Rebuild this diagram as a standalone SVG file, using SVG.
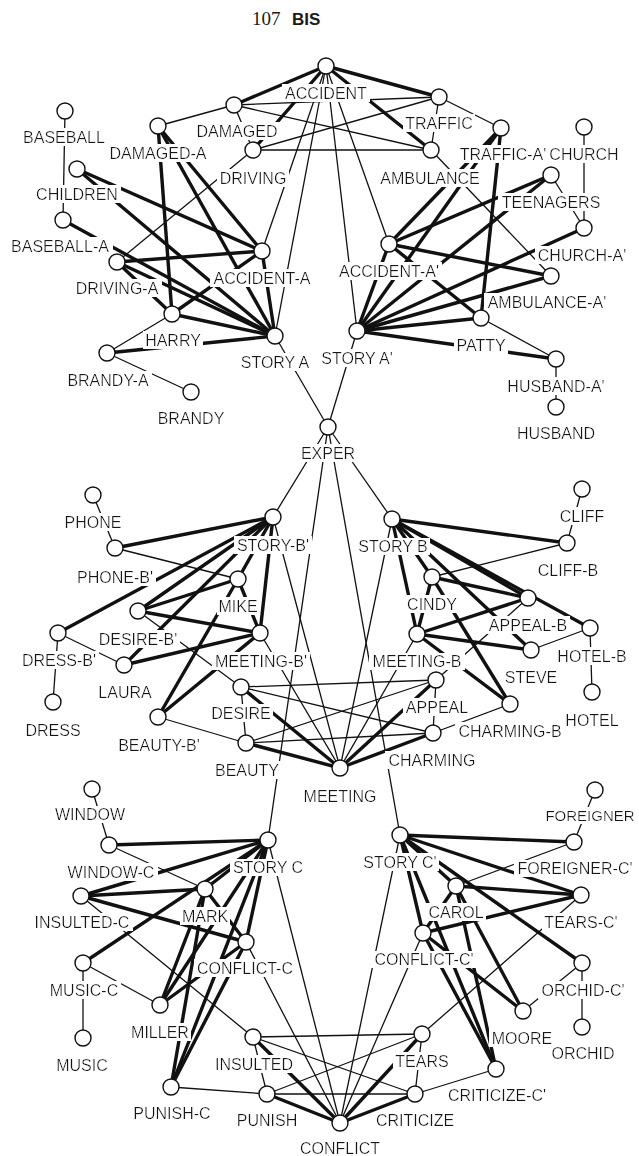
<svg xmlns="http://www.w3.org/2000/svg" width="639" height="1156" viewBox="0 0 639 1156">
<defs>
<filter id="bg" x="-0.03" y="0" width="1.06" height="1"><feFlood flood-color="#fff" result="f"/><feMerge><feMergeNode in="f"/><feMergeNode in="SourceGraphic"/></feMerge></filter>
</defs>
<style>
.t{stroke:#111;stroke-width:1.3;fill:none}
.T{stroke:#111;stroke-width:3.4;fill:none}
.nodes circle{fill:#fff;stroke:#111;stroke-width:1.4}
.nodes text{font-family:"Liberation Sans",Arial,sans-serif;font-size:16px;text-anchor:middle;fill:#161616;filter:url(#bg)}
.title{fill:#1a1a1a}
</style>
<g id="title">
<text class="title" x="252" y="25" font-family="Liberation Serif,serif" font-size="19">107</text>
<text class="title" x="292" y="25" font-family="Liberation Sans,sans-serif" font-size="17" font-weight="bold">BIS</text>
</g>
<g id="connectors">
<line class="T" x1="326" y1="66" x2="234" y2="105"/>
<line class="T" x1="326" y1="66" x2="439" y2="97"/>
<line class="T" x1="326" y1="66" x2="253" y2="150"/>
<line class="T" x1="326" y1="66" x2="431" y2="150"/>
<line class="t" x1="326" y1="66" x2="262" y2="251"/>
<line class="t" x1="326" y1="66" x2="275" y2="336"/>
<line class="t" x1="326" y1="66" x2="389" y2="244"/>
<line class="t" x1="326" y1="66" x2="357" y2="331"/>
<line class="t" x1="234" y1="105" x2="158" y2="126"/>
<line class="t" x1="234" y1="105" x2="439" y2="97"/>
<line class="t" x1="234" y1="105" x2="431" y2="150"/>
<line class="t" x1="234" y1="105" x2="253" y2="150"/>
<line class="t" x1="253" y1="150" x2="439" y2="97"/>
<line class="t" x1="253" y1="150" x2="431" y2="150"/>
<line class="t" x1="253" y1="150" x2="117" y2="262"/>
<line class="t" x1="439" y1="97" x2="431" y2="150"/>
<line class="t" x1="439" y1="97" x2="501" y2="128"/>
<line class="t" x1="65" y1="111" x2="63" y2="220"/>
<line class="T" x1="158" y1="126" x2="172" y2="314"/>
<line class="T" x1="158" y1="126" x2="275" y2="336"/>
<line class="T" x1="158" y1="126" x2="262" y2="251"/>
<line class="T" x1="77" y1="169" x2="262" y2="251"/>
<line class="T" x1="77" y1="169" x2="275" y2="336"/>
<line class="T" x1="63" y1="220" x2="275" y2="336"/>
<line class="T" x1="117" y1="262" x2="262" y2="251"/>
<line class="T" x1="117" y1="262" x2="275" y2="336"/>
<line class="T" x1="117" y1="262" x2="172" y2="314"/>
<line class="T" x1="172" y1="314" x2="262" y2="251"/>
<line class="T" x1="172" y1="314" x2="275" y2="336"/>
<line class="t" x1="172" y1="314" x2="107" y2="353"/>
<line class="T" x1="107" y1="353" x2="275" y2="336"/>
<line class="t" x1="107" y1="353" x2="191" y2="392"/>
<line class="T" x1="262" y1="251" x2="275" y2="336"/>
<line class="t" x1="275" y1="336" x2="328" y2="427"/>
<line class="T" x1="501" y1="128" x2="389" y2="244"/>
<line class="T" x1="501" y1="128" x2="357" y2="331"/>
<line class="T" x1="501" y1="128" x2="481" y2="318"/>
<line class="t" x1="431" y1="150" x2="551" y2="276"/>
<line class="T" x1="551" y1="175" x2="389" y2="244"/>
<line class="T" x1="551" y1="175" x2="357" y2="331"/>
<line class="t" x1="551" y1="175" x2="584" y2="228"/>
<line class="t" x1="584" y1="127" x2="584" y2="228"/>
<line class="T" x1="584" y1="228" x2="357" y2="331"/>
<line class="T" x1="389" y1="244" x2="551" y2="276"/>
<line class="T" x1="389" y1="244" x2="481" y2="318"/>
<line class="T" x1="551" y1="276" x2="357" y2="331"/>
<line class="T" x1="481" y1="318" x2="357" y2="331"/>
<line class="T" x1="556" y1="359" x2="357" y2="331"/>
<line class="t" x1="481" y1="318" x2="556" y2="359"/>
<line class="t" x1="556" y1="359" x2="556" y2="407"/>
<line class="T" x1="389" y1="244" x2="357" y2="331"/>
<line class="t" x1="357" y1="331" x2="328" y2="427"/>
<line class="t" x1="328" y1="427" x2="273" y2="517"/>
<line class="t" x1="328" y1="427" x2="392" y2="519"/>
<line class="t" x1="328" y1="427" x2="268" y2="840"/>
<line class="t" x1="328" y1="427" x2="400" y2="835"/>
<line class="t" x1="93" y1="495" x2="115" y2="548"/>
<line class="T" x1="115" y1="548" x2="273" y2="517"/>
<line class="t" x1="115" y1="548" x2="238" y2="579"/>
<line class="T" x1="58" y1="633" x2="273" y2="517"/>
<line class="T" x1="138" y1="611" x2="273" y2="517"/>
<line class="T" x1="124" y1="665" x2="273" y2="517"/>
<line class="T" x1="238" y1="579" x2="273" y2="517"/>
<line class="T" x1="260" y1="633" x2="273" y2="517"/>
<line class="T" x1="138" y1="611" x2="238" y2="579"/>
<line class="T" x1="138" y1="611" x2="260" y2="633"/>
<line class="t" x1="138" y1="611" x2="241" y2="687"/>
<line class="t" x1="58" y1="633" x2="124" y2="665"/>
<line class="t" x1="58" y1="633" x2="53" y2="702"/>
<line class="T" x1="124" y1="665" x2="260" y2="633"/>
<line class="T" x1="238" y1="579" x2="260" y2="633"/>
<line class="T" x1="158" y1="717" x2="238" y2="579"/>
<line class="T" x1="158" y1="717" x2="260" y2="633"/>
<line class="t" x1="158" y1="717" x2="246" y2="743"/>
<line class="t" x1="241" y1="687" x2="246" y2="743"/>
<line class="t" x1="273" y1="517" x2="340" y2="768"/>
<line class="t" x1="260" y1="633" x2="340" y2="768"/>
<line class="t" x1="241" y1="687" x2="436" y2="680"/>
<line class="t" x1="241" y1="687" x2="433" y2="733"/>
<line class="t" x1="246" y1="743" x2="436" y2="680"/>
<line class="t" x1="246" y1="743" x2="433" y2="733"/>
<line class="T" x1="241" y1="687" x2="340" y2="768"/>
<line class="T" x1="246" y1="743" x2="340" y2="768"/>
<line class="T" x1="436" y1="680" x2="340" y2="768"/>
<line class="T" x1="433" y1="733" x2="340" y2="768"/>
<line class="t" x1="392" y1="519" x2="340" y2="768"/>
<line class="t" x1="417" y1="634" x2="340" y2="768"/>
<line class="T" x1="392" y1="519" x2="567" y2="543"/>
<line class="T" x1="392" y1="519" x2="432" y2="577"/>
<line class="T" x1="392" y1="519" x2="528" y2="598"/>
<line class="T" x1="392" y1="519" x2="590" y2="628"/>
<line class="T" x1="392" y1="519" x2="417" y2="634"/>
<line class="T" x1="392" y1="519" x2="531" y2="650"/>
<line class="T" x1="432" y1="577" x2="510" y2="704"/>
<line class="T" x1="432" y1="577" x2="528" y2="598"/>
<line class="t" x1="432" y1="577" x2="567" y2="543"/>
<line class="T" x1="432" y1="577" x2="417" y2="634"/>
<line class="T" x1="417" y1="634" x2="528" y2="598"/>
<line class="T" x1="417" y1="634" x2="531" y2="650"/>
<line class="T" x1="417" y1="634" x2="510" y2="704"/>
<line class="t" x1="531" y1="650" x2="590" y2="628"/>
<line class="t" x1="528" y1="598" x2="436" y2="680"/>
<line class="t" x1="510" y1="704" x2="433" y2="733"/>
<line class="t" x1="436" y1="680" x2="433" y2="733"/>
<line class="t" x1="590" y1="628" x2="592" y2="692"/>
<line class="t" x1="582" y1="489" x2="567" y2="543"/>
<line class="T" x1="268" y1="840" x2="109" y2="845"/>
<line class="T" x1="268" y1="840" x2="81" y2="896"/>
<line class="T" x1="268" y1="840" x2="83" y2="963"/>
<line class="T" x1="268" y1="840" x2="205" y2="889"/>
<line class="T" x1="268" y1="840" x2="246" y2="942"/>
<line class="T" x1="268" y1="840" x2="160" y2="1005"/>
<line class="T" x1="268" y1="840" x2="171" y2="1087"/>
<line class="t" x1="268" y1="840" x2="340" y2="1123"/>
<line class="t" x1="92" y1="789" x2="109" y2="845"/>
<line class="t" x1="109" y1="845" x2="205" y2="889"/>
<line class="T" x1="81" y1="896" x2="205" y2="889"/>
<line class="T" x1="81" y1="896" x2="246" y2="942"/>
<line class="t" x1="81" y1="896" x2="253" y2="1037"/>
<line class="t" x1="83" y1="963" x2="160" y2="1005"/>
<line class="t" x1="83" y1="963" x2="83" y2="1038"/>
<line class="T" x1="205" y1="889" x2="160" y2="1005"/>
<line class="T" x1="205" y1="889" x2="171" y2="1087"/>
<line class="T" x1="205" y1="889" x2="246" y2="942"/>
<line class="T" x1="246" y1="942" x2="160" y2="1005"/>
<line class="T" x1="246" y1="942" x2="171" y2="1087"/>
<line class="t" x1="246" y1="942" x2="340" y2="1123"/>
<line class="t" x1="171" y1="1087" x2="267" y2="1094"/>
<line class="t" x1="253" y1="1037" x2="267" y2="1094"/>
<line class="t" x1="253" y1="1037" x2="422" y2="1034"/>
<line class="t" x1="253" y1="1037" x2="415" y2="1094"/>
<line class="T" x1="253" y1="1037" x2="340" y2="1123"/>
<line class="t" x1="267" y1="1094" x2="422" y2="1034"/>
<line class="t" x1="267" y1="1094" x2="415" y2="1094"/>
<line class="T" x1="267" y1="1094" x2="340" y2="1123"/>
<line class="T" x1="400" y1="835" x2="574" y2="842"/>
<line class="T" x1="400" y1="835" x2="581" y2="895"/>
<line class="T" x1="400" y1="835" x2="456" y2="886"/>
<line class="T" x1="400" y1="835" x2="582" y2="963"/>
<line class="T" x1="400" y1="835" x2="423" y2="933"/>
<line class="T" x1="400" y1="835" x2="496" y2="1069"/>
<line class="T" x1="456" y1="886" x2="581" y2="895"/>
<line class="T" x1="423" y1="933" x2="581" y2="895"/>
<line class="t" x1="456" y1="886" x2="574" y2="842"/>
<line class="T" x1="456" y1="886" x2="523" y2="1011"/>
<line class="T" x1="423" y1="933" x2="523" y2="1011"/>
<line class="T" x1="423" y1="933" x2="496" y2="1069"/>
<line class="T" x1="456" y1="886" x2="496" y2="1069"/>
<line class="T" x1="456" y1="886" x2="423" y2="933"/>
<line class="t" x1="581" y1="895" x2="422" y2="1034"/>
<line class="t" x1="582" y1="963" x2="523" y2="1011"/>
<line class="t" x1="582" y1="963" x2="582" y2="1027"/>
<line class="t" x1="595" y1="790" x2="574" y2="842"/>
<line class="t" x1="423" y1="933" x2="340" y2="1123"/>
<line class="t" x1="400" y1="835" x2="340" y2="1123"/>
<line class="t" x1="496" y1="1069" x2="415" y2="1094"/>
<line class="t" x1="422" y1="1034" x2="415" y2="1094"/>
<line class="T" x1="422" y1="1034" x2="340" y2="1123"/>
<line class="T" x1="415" y1="1094" x2="340" y2="1123"/>
</g>
<g class="nodes">
<g id="accident"><circle cx="326" cy="66" r="8"/><text x="326" y="98.5">ACCIDENT</text></g>
<g id="damaged"><circle cx="234" cy="105" r="8"/><text x="237" y="136.5">DAMAGED</text></g>
<g id="damaged-a"><circle cx="158" cy="126" r="8"/><text x="158" y="158.5">DAMAGED-A</text></g>
<g id="driving"><circle cx="253" cy="150" r="8"/><text x="253" y="183.5">DRIVING</text></g>
<g id="baseball"><circle cx="65" cy="111" r="8"/><text x="64" y="142.5">BASEBALL</text></g>
<g id="children"><circle cx="77" cy="169" r="8"/><text x="77" y="199.5">CHILDREN</text></g>
<g id="baseball-a"><circle cx="63" cy="220" r="8"/><text x="60" y="251.5">BASEBALL-A</text></g>
<g id="driving-a"><circle cx="117" cy="262" r="8"/><text x="117" y="293.5">DRIVING-A</text></g>
<g id="harry"><circle cx="172" cy="314" r="8"/><text x="173" y="345.5">HARRY</text></g>
<g id="brandy-a"><circle cx="107" cy="353" r="8"/><text x="108" y="385.5">BRANDY-A</text></g>
<g id="brandy"><circle cx="191" cy="392" r="8"/><text x="191" y="423.5">BRANDY</text></g>
<g id="story-a"><circle cx="275" cy="336" r="8"/><text x="275" y="367.5">STORY A</text></g>
<g id="accident-a"><circle cx="262" cy="251" r="8"/><text x="262" y="283.5">ACCIDENT-A</text></g>
<g id="exper"><circle cx="328" cy="427" r="8"/><text x="328" y="458.5">EXPER</text></g>
<g id="traffic"><circle cx="439" cy="97" r="8"/><text x="439" y="128.5">TRAFFIC</text></g>
<g id="ambulance"><circle cx="431" cy="150" r="8"/><text x="430" y="183.5">AMBULANCE</text></g>
<g id="traffic-a2"><circle cx="501" cy="128" r="8"/><text x="503" y="159.5">TRAFFIC-A'</text></g>
<g id="church"><circle cx="584" cy="127" r="8"/><text x="584" y="159.5">CHURCH</text></g>
<g id="teenagers"><circle cx="551" cy="175" r="8"/><text x="551" y="207.5">TEENAGERS</text></g>
<g id="church-a2"><circle cx="584" cy="228" r="8"/><text x="582" y="260.5">CHURCH-A'</text></g>
<g id="accident-a2"><circle cx="389" cy="244" r="8"/><text x="389" y="276.5">ACCIDENT-A'</text></g>
<g id="ambulance-a2"><circle cx="551" cy="276" r="8"/><text x="547" y="307.5">AMBULANCE-A'</text></g>
<g id="patty"><circle cx="481" cy="318" r="8"/><text x="481" y="350.5">PATTY</text></g>
<g id="story-a2"><circle cx="357" cy="331" r="8"/><text x="357" y="363.5">STORY A'</text></g>
<g id="husband-a2"><circle cx="556" cy="359" r="8"/><text x="556" y="391.5">HUSBAND-A'</text></g>
<g id="husband"><circle cx="556" cy="407" r="8"/><text x="556" y="438.5">HUSBAND</text></g>
<g id="phone"><circle cx="93" cy="495" r="8"/><text x="93" y="527.5">PHONE</text></g>
<g id="phone-b2"><circle cx="115" cy="548" r="8"/><text x="115" y="582.5">PHONE-B'</text></g>
<g id="story-b2"><circle cx="273" cy="517" r="8"/><text x="273" y="550.5">STORY-B'</text></g>
<g id="mike"><circle cx="238" cy="579" r="8"/><text x="238" y="611.5">MIKE</text></g>
<g id="desire-b2"><circle cx="138" cy="611" r="8"/><text x="138" y="644.5">DESIRE-B'</text></g>
<g id="dress-b2"><circle cx="58" cy="633" r="8"/><text x="59" y="665.5">DRESS-B'</text></g>
<g id="laura"><circle cx="124" cy="665" r="8"/><text x="125" y="697.5">LAURA</text></g>
<g id="dress"><circle cx="53" cy="702" r="8"/><text x="53" y="735.5">DRESS</text></g>
<g id="meeting-b2"><circle cx="260" cy="633" r="8"/><text x="261" y="666.5">MEETING-B'</text></g>
<g id="desire"><circle cx="241" cy="687" r="8"/><text x="241" y="718.5">DESIRE</text></g>
<g id="beauty-b2"><circle cx="158" cy="717" r="8"/><text x="159" y="750.5">BEAUTY-B'</text></g>
<g id="beauty"><circle cx="246" cy="743" r="8"/><text x="247" y="775.5">BEAUTY</text></g>
<g id="meeting"><circle cx="340" cy="768" r="8"/><text x="340" y="801.5">MEETING</text></g>
<g id="cliff"><circle cx="582" cy="489" r="8"/><text x="582" y="521.5">CLIFF</text></g>
<g id="story-b"><circle cx="392" cy="519" r="8"/><text x="393" y="552">STORY B</text></g>
<g id="cliff-b"><circle cx="567" cy="543" r="8"/><text x="568" y="575.5">CLIFF-B</text></g>
<g id="cindy"><circle cx="432" cy="577" r="8"/><text x="432" y="609.5">CINDY</text></g>
<g id="appeal-b"><circle cx="528" cy="598" r="8"/><text x="528" y="630.5">APPEAL-B</text></g>
<g id="hotel-b"><circle cx="590" cy="628" r="8"/><text x="592" y="661.5">HOTEL-B</text></g>
<g id="meeting-b"><circle cx="417" cy="634" r="8"/><text x="417" y="667">MEETING-B</text></g>
<g id="steve"><circle cx="531" cy="650" r="8"/><text x="531" y="682.5">STEVE</text></g>
<g id="hotel"><circle cx="592" cy="692" r="8"/><text x="592" y="725.5">HOTEL</text></g>
<g id="appeal"><circle cx="436" cy="680" r="8"/><text x="437" y="712.5">APPEAL</text></g>
<g id="charming-b"><circle cx="510" cy="704" r="8"/><text x="510" y="736.5">CHARMING-B</text></g>
<g id="charming"><circle cx="433" cy="733" r="8"/><text x="432" y="765.5">CHARMING</text></g>
<g id="window"><circle cx="92" cy="789" r="8"/><text x="90" y="820">WINDOW</text></g>
<g id="window-c"><circle cx="109" cy="845" r="8"/><text x="111" y="877.5">WINDOW-C</text></g>
<g id="story-c"><circle cx="268" cy="840" r="8"/><text x="268" y="873">STORY C</text></g>
<g id="insulted-c"><circle cx="81" cy="896" r="8"/><text x="82" y="927.5">INSULTED-C</text></g>
<g id="mark"><circle cx="205" cy="889" r="8"/><text x="205" y="921.5">MARK</text></g>
<g id="conflict-c"><circle cx="246" cy="942" r="8"/><text x="245" y="973.5">CONFLICT-C</text></g>
<g id="music-c"><circle cx="83" cy="963" r="8"/><text x="84" y="995.5">MUSIC-C</text></g>
<g id="miller"><circle cx="160" cy="1005" r="8"/><text x="160" y="1037.5">MILLER</text></g>
<g id="music"><circle cx="83" cy="1038" r="8"/><text x="82" y="1071">MUSIC</text></g>
<g id="insulted"><circle cx="253" cy="1037" r="8"/><text x="254" y="1069.5">INSULTED</text></g>
<g id="punish-c"><circle cx="171" cy="1087" r="8"/><text x="172" y="1118.5">PUNISH-C</text></g>
<g id="punish"><circle cx="267" cy="1094" r="8"/><text x="267" y="1126">PUNISH</text></g>
<g id="conflict"><circle cx="340" cy="1123" r="8"/><text x="340" y="1154">CONFLICT</text></g>
<g id="foreigner"><circle cx="595" cy="790" r="8"/><text x="590" y="821" style="font-size:15px">FOREIGNER</text></g>
<g id="story-c2"><circle cx="400" cy="835" r="8"/><text x="400" y="867.5">STORY C'</text></g>
<g id="foreigner-c2"><circle cx="574" cy="842" r="8"/><text x="575" y="874">FOREIGNER-C'</text></g>
<g id="carol"><circle cx="456" cy="886" r="8"/><text x="456" y="917.5">CAROL</text></g>
<g id="tears-c2"><circle cx="581" cy="895" r="8"/><text x="581" y="927.5">TEARS-C'</text></g>
<g id="conflict-c2"><circle cx="423" cy="933" r="8"/><text x="424" y="965">CONFLICT-C'</text></g>
<g id="orchid-c2"><circle cx="582" cy="963" r="8"/><text x="583" y="995.5">ORCHID-C'</text></g>
<g id="moore"><circle cx="523" cy="1011" r="8"/><text x="522" y="1043.5">MOORE</text></g>
<g id="orchid"><circle cx="582" cy="1027" r="8"/><text x="583" y="1058.5">ORCHID</text></g>
<g id="tears"><circle cx="422" cy="1034" r="8"/><text x="422" y="1066.5">TEARS</text></g>
<g id="criticize-c2"><circle cx="496" cy="1069" r="8"/><text x="497" y="1100.5">CRITICIZE-C'</text></g>
<g id="criticize"><circle cx="415" cy="1094" r="8"/><text x="415" y="1126">CRITICIZE</text></g>
</g>
</svg>
